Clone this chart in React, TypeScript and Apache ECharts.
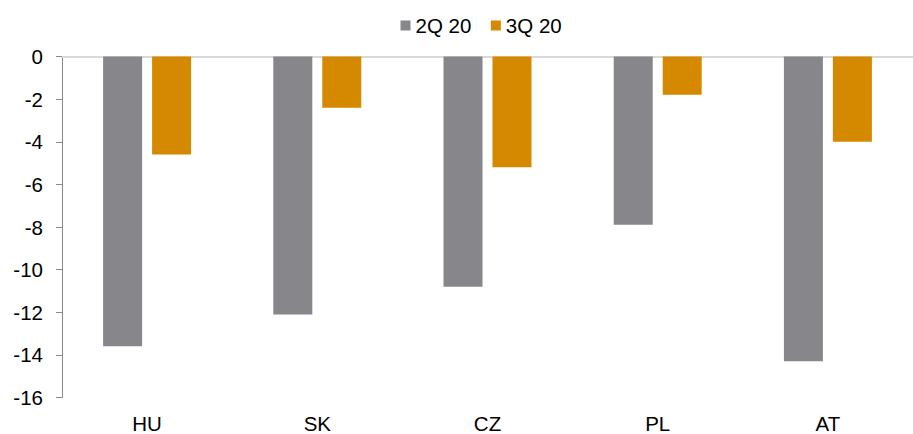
import React, { useEffect, useRef } from "react";
import * as echarts from "echarts";

const categories = ["HU", "SK", "CZ", "PL", "AT"];
const q2Values = [-13.6, -12.1, -10.8, -7.9, -14.3];
const q3Values = [-4.6, -2.4, -5.2, -1.8, -4.0];
const seriesNames = ["2Q 20", "3Q 20"];

const FONT = "'Liberation Sans', Arial, sans-serif";
const FS = 20.5;

export default function App() {
  const ref = useRef<HTMLDivElement>(null);
  useEffect(() => {
    if (!ref.current) return;
    const chart = echarts.init(ref.current, null, { renderer: "svg" });
    chart.setOption({
      animation: false,
      backgroundColor: "#ffffff",
      legend: {
        data: seriesNames,
        left: 400.5,
        top: 15,
        padding: 0,
        icon: "rect",
        itemWidth: 10,
        itemHeight: 10,
        itemGap: 19.5,
        textStyle: { fontSize: FS, color: "#000", fontFamily: FONT },
      },
      grid: { left: 62, top: 56.5, width: 865, height: 343, containLabel: false },
      xAxis: [
        {
          type: "category",
          data: categories,
          position: "top",
          axisLine: { show: true, onZero: false, lineStyle: { color: "#d9d9d9", width: 2 } },
          axisTick: { show: false },
          axisLabel: { show: false },
        },
        {
          type: "category",
          data: categories,
          position: "bottom",
          axisLine: { show: false, onZero: false },
          axisTick: { show: false },
          axisLabel: { fontSize: FS, color: "#000", fontFamily: FONT, margin: 15.5 },
        },
      ],
      yAxis: {
        type: "value",
        min: -16,
        max: 0,
        interval: 2,
        axisLine: { show: true, lineStyle: { color: "#898989", width: 1 } },
        axisTick: { show: true, length: 6, lineStyle: { color: "#898989" } },
        splitLine: { show: false },
        axisLabel: { fontSize: FS, color: "#000", fontFamily: FONT, margin: 19 },
      },
      series: [
        {
          name: seriesNames[0],
          type: "bar",
          xAxisIndex: 0,
          data: q2Values,
          barWidth: 39,
          barGap: "25.6%",
          itemStyle: { color: "#87868b" },
        },
        {
          name: seriesNames[1],
          type: "bar",
          xAxisIndex: 0,
          data: q3Values,
          barWidth: 39,
          barGap: "25.6%",
          itemStyle: { color: "#d58900" },
        },
      ],
    });
    return () => chart.dispose();
  }, []);
  return (
    <div
      ref={ref}
      style={{ position: "fixed", left: 0, top: 0, width: 913, height: 434, background: "#fff" }}
    />
  );
}
